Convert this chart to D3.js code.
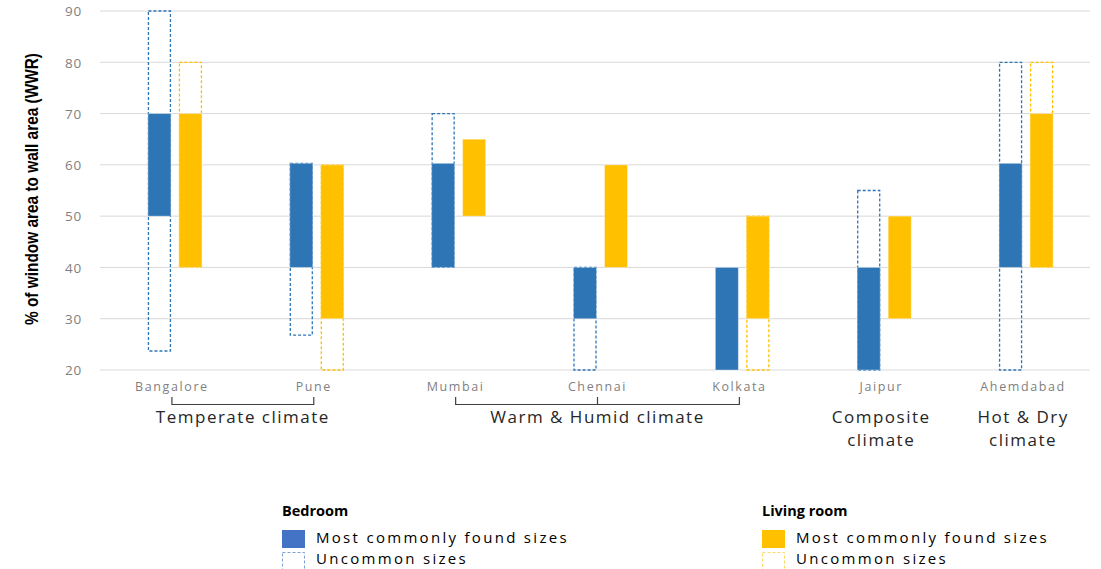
<!DOCTYPE html>
<html><head><meta charset="utf-8">
<script src="https://cdn.jsdelivr.net/npm/d3@7"></script>
<style>body{margin:0;background:#fff}svg{display:block}</style>
</head><body>
<svg id="c" width="1101" height="569"></svg>
<script>
const cities = ["Bangalore","Pune","Mumbai","Chennai","Kolkata","Jaipur","Ahemdabad"];
// Bedroom: most common range and full (uncommon) range
const bedCommonLow  = [50, 40, 40, 30, 20, 20, 40];
const bedCommonHigh = [70, 60.3, 60.3, 40, 40, 40, 60.3];
const bedRangeLow   = [23.7, 26.8, 40, 20, 20, 20, 20];
const bedRangeHigh  = [90, 60.3, 70, 40, 40, 55, 80];
// Living room
const livCommonLow  = [40, 30, 50, 40, 30, 30, 40];
const livCommonHigh = [70, 60, 65, 60, 50, 50, 70];
const livRangeLow   = [40, 20, 50, 40, 20, 30, 40];
const livRangeHigh  = [80, 60, 65, 60, 50, 50, 80];
const yTicks = [20,30,40,50,60,70,80,90];
const groups = [
  {lines:["Temperate climate"], from:0, to:1, mid:[]},
  {lines:["Warm & Humid climate"], from:2, to:4, mid:[3]},
  {lines:["Composite","climate"], from:5, to:5, mid:null},
  {lines:["Hot & Dry","climate"], from:6, to:6, mid:null}
];
const BLUE="#2E75B6", YEL="#FFC000";

const svg = d3.select("#c");
const x = d3.scaleBand().domain(cities).range([104,1097]);
const y = d3.scaleLinear().domain([20,90]).range([370,11]);
const cx = c => x(c) + x.bandwidth()/2;

// grid
svg.append("g").selectAll("line").data(yTicks).join("line")
  .attr("x1",100).attr("x2",1090).attr("y1",d=>y(d)).attr("y2",d=>y(d))
  .attr("stroke","#d9d9d9").attr("stroke-width",1);
const yAxis = d3.axisLeft(y).tickValues(yTicks).tickSize(0).tickPadding(0);
const ga = svg.append("g").attr("transform","translate(82,0)").call(yAxis);
ga.select(".domain").remove();
ga.selectAll("text").attr("font-family","Open Sans, sans-serif").attr("font-size",13.5)
  .attr("letter-spacing",0.8).attr("fill","#7f7f7f").attr("dy","0.35em");

svg.append("text").attr("transform","translate(38,189) rotate(-90)")
  .attr("text-anchor","middle").attr("font-family","Liberation Sans, sans-serif")
  .attr("font-weight","bold").attr("font-size",17.5).attr("fill","#000")
  .attr("textLength",272).attr("lengthAdjust","spacingAndGlyphs")
  .text("% of window area to wall area (WWR)");

const bw = 23;
function drawSeries(off, color, rLo, rHi, cLo, cHi){
  const g = svg.append("g");
  g.selectAll("rect.r").data(cities).join("rect").attr("class","r")
    .attr("x",d=>cx(d)+off+0.5).attr("width",bw-1)
    .attr("y",(d,i)=>y(rHi[i])).attr("height",(d,i)=>y(rLo[i])-y(rHi[i]))
    .attr("fill","none").attr("stroke",color).attr("stroke-width",1.3)
    .attr("stroke-dasharray","3,2")
    .attr("display",(d,i)=> (rHi[i]>cHi[i]||rLo[i]<cLo[i])?null:"none");
  g.selectAll("rect.c").data(cities).join("rect").attr("class","c")
    .attr("x",d=>cx(d)+off).attr("width",bw)
    .attr("y",(d,i)=>y(cHi[i])).attr("height",(d,i)=>y(cLo[i])-y(cHi[i]))
    .attr("fill",color).attr("stroke","#fff").attr("stroke-opacity",0.35).attr("stroke-width",1);
}
drawSeries(-27, BLUE, bedRangeLow, bedRangeHigh, bedCommonLow, bedCommonHigh);
drawSeries(4, YEL, livRangeLow, livRangeHigh, livCommonLow, livCommonHigh);

// city labels
svg.append("g").selectAll("text").data(cities).join("text")
  .attr("x",d=>cx(d)-3).attr("y",391).attr("text-anchor","middle")
  .attr("font-family","Open Sans, sans-serif").attr("font-size",12.5).attr("letter-spacing",1.6)
  .attr("fill","#7f7f7f").text(d=>d);

// group brackets and labels
const labx = i => cx(cities[i]) - 3;
groups.forEach(gr=>{
  const x1 = labx(gr.from), x2 = labx(gr.to);
  if(gr.mid){
    const p = d3.path();
    p.moveTo(x1,397); p.lineTo(x1,404.5); p.lineTo(x2,404.5); p.lineTo(x2,397);
    gr.mid.forEach(m=>{p.moveTo(labx(m),397); p.lineTo(labx(m),404.5);});
    svg.append("path").attr("d",p.toString()).attr("fill","none").attr("stroke","#404040").attr("stroke-width",1.2);
  }
  const t = svg.append("text").attr("text-anchor","middle")
    .attr("font-family","Open Sans, sans-serif").attr("font-size",17).attr("letter-spacing",1.5)
    .attr("fill","#262626");
  gr.lines.forEach((l,k)=>t.append("tspan").attr("x",(x1+x2)/2).attr("y",423+k*23).text(l));
});

// legend
function legend(x0, title, color, dashColor){
  const g = svg.append("g");
  g.append("text").attr("x",x0).attr("y",516).attr("font-family","Open Sans, sans-serif")
    .attr("font-weight","bold").attr("font-size",14.5).attr("fill","#000").text(title);
  g.append("rect").attr("x",x0).attr("y",530).attr("width",23).attr("height",18).attr("fill",color);
  g.append("rect").attr("x",x0+0.5).attr("y",552.5).attr("width",22).attr("height",20)
    .attr("fill","none").attr("stroke",dashColor).attr("stroke-width",1).attr("stroke-dasharray","3,2");
  g.append("text").attr("x",x0+34).attr("y",543).attr("font-family","Open Sans, sans-serif")
    .attr("font-size",15).attr("letter-spacing",2.3).attr("fill","#000").text("Most commonly found sizes");
  g.append("text").attr("x",x0+34).attr("y",564).attr("font-family","Open Sans, sans-serif")
    .attr("font-size",15).attr("letter-spacing",2.3).attr("fill","#000").text("Uncommon sizes");
}
legend(282,"Bedroom","#4472C4","#7f9fd0");
legend(762,"Living room",YEL,"#ffd966");
</script>
</body></html>
